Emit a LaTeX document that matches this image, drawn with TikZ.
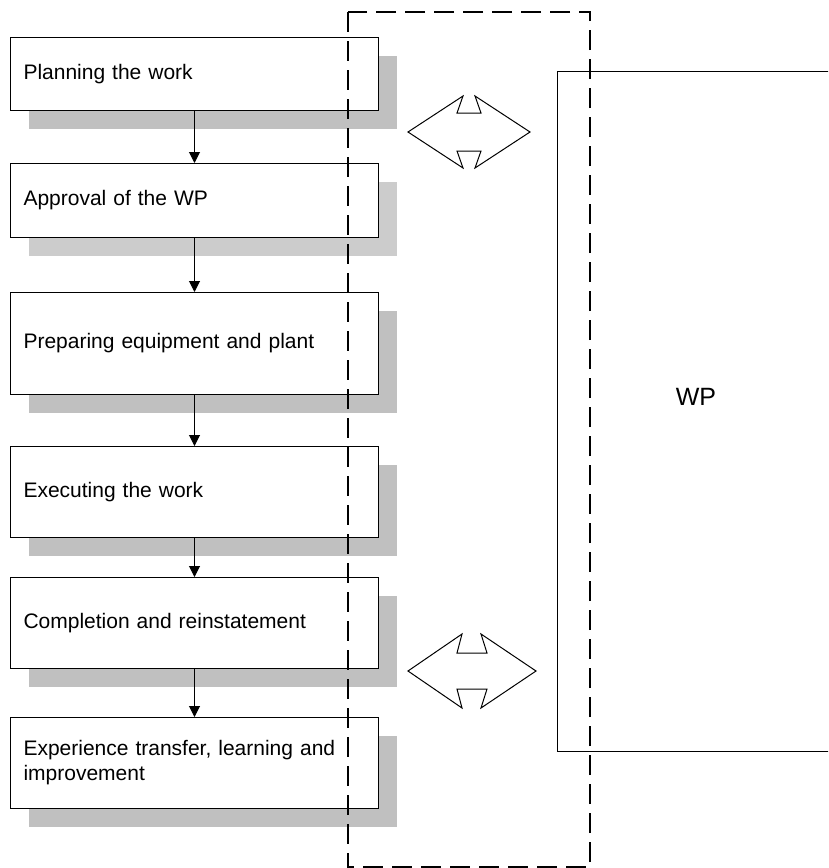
\documentclass[tikz,border=0pt]{standalone}
\usepackage{fontspec}
\setmainfont{Liberation Sans}
\usetikzlibrary{arrows.meta,shadows}
\usepackage{xcolor}
\definecolor{shadecol}{RGB}{192,192,192}
\definecolor{shadelt}{RGB}{204,204,204}
\tikzset{
  procbox/.style={draw,line width=1pt,fill=white,rectangle,anchor=north west,
    minimum width=368pt,text width=342pt,inner xsep=13pt,align=left,
    font=\fontsize{21}{25}\selectfont,
    drop shadow={shadow xshift=18pt,shadow yshift=-18pt,fill=shadecol,opacity=1}},
  flow/.style={line width=1pt,-{Triangle[length=11pt,width=11pt]}},
  iface/.style={line width=1pt,fill=white,line join=miter}
}

\begin{document}
\begin{tikzpicture}[x=1pt,y=-1pt]
  \useasboundingbox (0,0) rectangle (828,868);
  \clip (0,0) rectangle (828,868);
  % process steps
  \node[procbox,minimum height=73pt] (plan) at (10,37) {Planning the work};
  \node[procbox,minimum height=74pt,
    drop shadow={shadow xshift=18pt,shadow yshift=-18pt,fill=shadelt,opacity=1}]
    (appr) at (10,163) {Approval of the WP};
  \node[procbox,minimum height=102pt] (prep) at (10,292) {Preparing equipment and plant};
  \node[procbox,minimum height=91pt] (exec) at (10,446) {Executing the work};
  \node[procbox,minimum height=91pt] (comp) at (10,577) {Completion and reinstatement};
  \node[procbox,minimum height=91pt] (expt) at (10,717)
    {Experience transfer, learning and\\improvement};
  \draw[flow] (plan) -- (appr);
  \draw[flow] (appr) -- (prep);
  \draw[flow] (prep) -- (exec);
  \draw[flow] (exec) -- (comp);
  \draw[flow] (comp) -- (expt);
  % work permit
  \node[draw,line width=1pt,rectangle,anchor=north west,
    minimum width=290pt,minimum height=680pt] (wp) at (557,71) {};
  \node[font=\fontsize{25}{30}\selectfont] (wplbl) at (696,397) {WP};
  % interfaces
  \draw[iface] (408,132) -- (463,96) -- (457,113) -- (481,113) -- (475,96)
    -- (530,132) -- (475,168) -- (481,151) -- (457,151) -- (463,168) -- cycle;
  \draw[iface] (408,671) -- (462,634) -- (457,653) -- (487,653) -- (481,634)
    -- (536,671) -- (481,708) -- (487,689) -- (457,689) -- (462,708) -- cycle;
  % boundary
  \draw[line width=2.2pt,dash pattern=on 20pt off 9pt] (348,12) rectangle (590,867);
\end{tikzpicture}
\end{document}
